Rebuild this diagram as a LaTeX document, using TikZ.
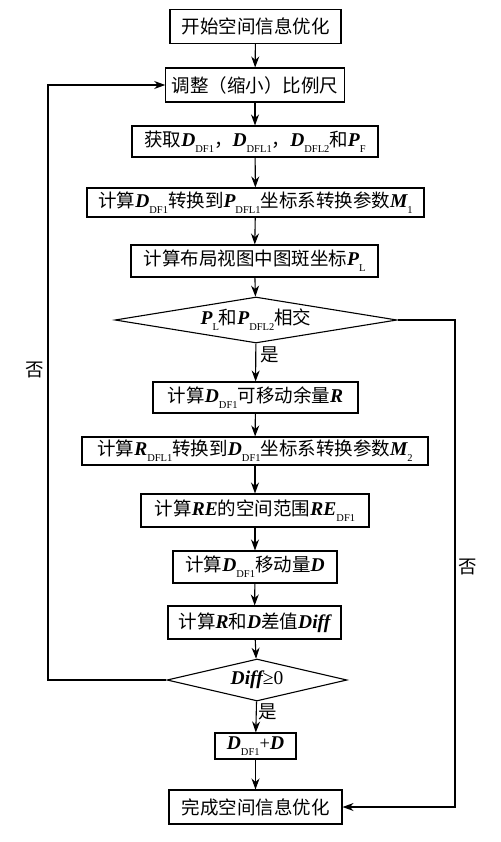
\documentclass[tikz,border=0pt]{standalone}
\usepackage{fontspec}
\setmainfont{Liberation Serif}
\newfontfamily\cjk{Noto Sans CJK SC}
\usetikzlibrary{shapes.geometric,arrows.meta}

\newcommand{\bv}[1]{{\rmfamily\bfseries\itshape\fontsize{19.5}{20}\selectfont #1}}
\newcommand{\sub}[1]{\raisebox{-0.6ex}{\rmfamily\fontsize{10.5}{10}\selectfont #1}}

\tikzset{
    proc/.style={draw, line width=1.1pt, minimum height=31pt, inner xsep=6pt, inner ysep=0pt},
    test/.style={draw, diamond, aspect=6, line width=1.1pt, inner sep=0pt},
    flow/.style={line width=1.1pt, -{Stealth[length=11pt,width=8pt]}},
    lbl/.style={inner sep=0pt}
}

\begin{document}
\begin{tikzpicture}[x=1pt, y=-1pt, font=\cjk\fontsize{18.5}{20}\selectfont]
    \useasboundingbox (0,0) rectangle (500,842);

    \node[proc, minimum width=171pt, minimum height=34pt] (start) at (255.5,26.5) {开始空间信息优化};
    \node[proc, minimum width=170pt, minimum height=34pt] (scale) at (255,85) {调整（缩小）比例尺};
    \node[proc, minimum width=246pt] (fetch) at (255,141.5) {获取\bv{D}\sub{DF1}，\bv{D}\sub{DFL1}，\bv{D}\sub{DFL2}和\bv{P}\sub{F}};
    \node[proc, minimum width=337pt, minimum height=29pt] (calcM1) at (255.5,202.5) {计算\bv{D}\sub{DF1}转换到\bv{P}\sub{DFL1}坐标系转换参数\bv{M}\sub{1}};
    \node[proc, minimum width=247pt, minimum height=32pt] (calcPL) at (254.5,261) {计算布局视图中图斑坐标\bv{P}\sub{L}};
    \node[test, minimum width=282pt, minimum height=46pt] (cross) at (256,320) {\bv{P}\sub{L}和\bv{P}\sub{DFL2}相交};
    \node[proc, minimum width=205pt] (calcR) at (255.5,397.5) {计算\bv{D}\sub{DF1}可移动余量\bv{R}};
    \node[proc, minimum width=346pt, minimum height=28pt] (calcM2) at (255,451) {计算\bv{R}\sub{DFL1}转换到\bv{D}\sub{DF1}坐标系转换参数\bv{M}\sub{2}};
    \node[proc, minimum width=228pt, minimum height=33pt] (calcRE) at (255,510.5) {计算\bv{RE}的空间范围\bv{RE}\sub{DF1}};
    \node[proc, minimum width=164pt, minimum height=32pt] (calcD) at (255,567) {计算\bv{D}\sub{DF1}移动量\bv{D}};
    \node[proc, minimum width=173pt, minimum height=33pt] (calcDiff) at (254.5,622.5) {计算\bv{R}和\bv{D}差值\bv{Diff}};
    \node[test, minimum width=180pt, minimum height=42pt] (check) at (257,680) {\bv{Diff}{\rmfamily\fontsize{19.5}{20}\selectfont ≥0}};
    \node[proc, minimum width=81pt, minimum height=26pt] (move) at (255.5,746) {\bv{D}\sub{DF1}{\rmfamily +}\bv{D}};
    \node[proc, minimum width=173pt, minimum height=34pt] (finish) at (255.5,807) {完成空间信息优化};

    % main line
    \draw[flow] (start) -- (scale);
    \draw[flow] (scale) -- (fetch);
    \draw[flow] (fetch) -- (calcM1);
    \draw[flow] (calcM1) -- (calcPL);
    \draw[flow] (calcPL) -- (cross);
    \draw[flow] (cross) -- (calcR);
    \draw[flow] (calcR) -- (calcM2);
    \draw[flow] (calcM2) -- (calcRE);
    \draw[flow] (calcRE) -- (calcD);
    \draw[flow] (calcD) -- (calcDiff);
    \draw[flow] (calcDiff) -- (check);
    \draw[flow] (check) -- (move);
    \draw[flow] (move) -- (finish);

    % loops
    \coordinate (backL) at (48,680);
    \coordinate (skipR) at (455,320);
    \draw[flow] (check.west) -- (backL) |- (scale.west);
    \draw[flow] (cross.east) -- (skipR) |- (finish.east);

    \node[lbl] (yes1) at (270,355) {是};
    \node[lbl] (yes2) at (268,712) {是};
    \node[lbl] (no1) at (35,370) {否};
    \node[lbl] (no2) at (468,567) {否};
\end{tikzpicture}
\end{document}
